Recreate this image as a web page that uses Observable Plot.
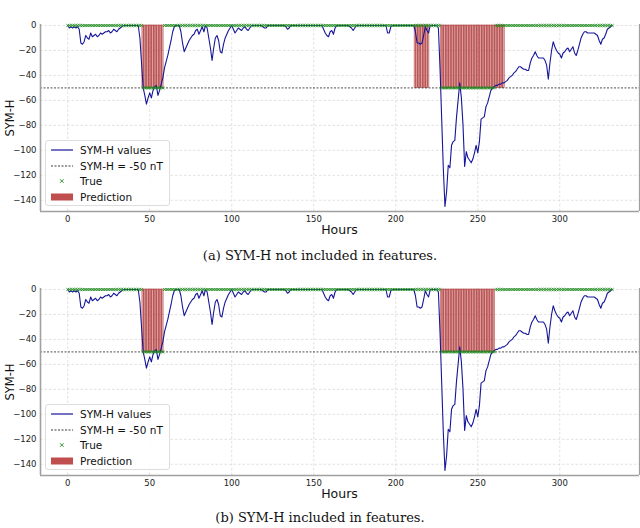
<!DOCTYPE html>
<html><head><meta charset="utf-8">
<script src="https://cdn.jsdelivr.net/npm/d3@7"></script>
<script src="https://cdn.jsdelivr.net/npm/@observablehq/plot@0.6"></script>
<style>
body{margin:0;background:#fff;font-family:"DejaVu Sans",sans-serif;}
#fig{position:relative;width:640px;height:528px;overflow:hidden;background:#fff}
.panel{position:absolute;left:0;width:640px;height:240px}
.cap{position:absolute;left:0;width:640px;text-align:center;font-family:"DejaVu Serif",serif;font-size:13px;line-height:16px;color:#111}
.xl{position:absolute;left:40px;width:599px;text-align:center;font-size:12.5px;line-height:14px;color:#111}
.yl{position:absolute;left:3px;width:14px;height:60px;font-size:11.5px;color:#111}
.yl span{position:absolute;left:50%;top:50%;transform:translate(-50%,-50%) rotate(-90deg);white-space:nowrap}
.leg{position:absolute;left:45px;width:123px;height:64px;border:1px solid #ddd;border-radius:3px;background:rgba(255,255,255,0.85);font-size:10.5px;color:#111}
.leg .row{position:absolute;left:4px;height:14px;line-height:14px;white-space:nowrap}
.leg svg{position:absolute;left:0;top:0}
.leg .t{position:absolute;left:30px;top:0}
</style></head>
<body><div id="fig"></div>
<script>
// SYM-H hourly values (nT), hour 0..332
const symh = [
0,-2,-1,-2,-1,-2,-1,-3,-14,-15,
-13,-8,-10,-11,-6,-9,-8,-7,-9,-8,
-6,-7,-6,-5,-5,-4,-6,-5,-3,-4,
-5,-3,-2,-1,0,0,0,0,0,0,
0,0,0,0,-10,-30,-50,-56,-63,-58,
-54,-58,-52,-49,-48,-56,-52,-47,-42,-34,
-29,-24,-18,-12,-5,-1,0,0,0,-5,
-14,-21,-18,-15,-12,-10,-8,-7,-4,-3,
-7,-4,-1,-5,0,-2,-10,-18,-28,-18,
-10,-8,-12,-21,-22,-15,-10,-7,-4,-2,
0,-3,-6,-4,-2,-3,-4,-2,-1,-3,
-4,-2,0,0,0,0,0,0,0,-1,
-2,-2,0,0,0,0,0,0,0,0,
0,0,0,-1,-3,-2,0,0,0,0,
0,0,0,0,0,0,0,0,0,0,
0,0,0,0,0,0,-3,-6,-8,-9,
-5,-4,-7,-2,0,0,0,0,0,0,
0,0,-1,-2,-4,-2,0,0,0,0,
0,0,0,0,0,0,0,0,0,0,
0,0,0,0,0,-6,-6,-1,0,0,
0,0,0,0,0,0,0,0,0,0,
0,0,-5,-14,-14,-15,-14,-8,-1,-4,
-6,0,0,0,0,0,-2,-35,-75,-115,
-145,-133,-112,-114,-96,-93,-92,-74,-60,-46,
-58,-80,-113,-101,-106,-108,-110,-107,-102,-96,
-102,-93,-75,-74,-73,-65,-62,-57,-52,-50,
-49,-48,-48,-47,-47,-46,-46,-45,-44,-42,
-41,-40,-38,-37,-35,-33,-33,-34,-35,-35,
-36,-36,-30,-26,-24,-21,-24,-26,-26,-26,
-26,-28,-32,-43,-30,-20,-13,-17,-20,-22,
-23,-26,-22,-21,-19,-18,-21,-19,-17,-22,
-24,-20,-15,-10,-7,-5,-5,-6,-6,-6,
-6,-6,-7,-8,-12,-15,-11,-10,-7,-3,
-2,-1,0
];
const threshold = -50;
// true storm hours (label = storm) as [start, end] inclusive
const trueStorms = [[46, 58], [228, 260]];
// predicted storm hours per panel
const predA = [[46, 58], [212, 220], [228, 266]];
const predB = [[46, 58], [228, 260]];
const captions = ["(a) SYM-H not included in features.", "(b) SYM-H included in features."];
const xTicks = [0, 50, 100, 150, 200, 250, 300];
const yTicks = [0, -20, -40, -60, -80, -100, -120, -140];
const legendLabels = ["SYM-H values", "SYM-H = -50 nT", "True", "Prediction"];

const lineColor = "#16169a";
const barColor = "#b22222";
const xDomain = [-16.6, 348.6];
const yDomain = [-149, 0.8];

const series = symh.map((v, i) => ({h: i, v}));
const stormSet = new Set(trueStorms.flatMap(([a, b]) => d3.range(a, b + 1)));
const trueMarks = series.map(d => ({h: d.h, y: stormSet.has(d.h) ? threshold : 0}));

function panel(pred) {
  const predHours = pred.flatMap(([a, b]) => d3.range(a, b + 1)).map(h => ({h}));
  return Plot.plot({
    width: 640, height: 240,
    marginLeft: 40, marginRight: 1, marginTop: 24, marginBottom: 29,
    style: {fontFamily: "DejaVu Sans, sans-serif", fontSize: "8.5px", color: "#222", background: "transparent"},
    x: {domain: xDomain},
    y: {domain: yDomain},
    marks: [
      Plot.gridX(xTicks, {stroke: "#d4d4d4", strokeOpacity: 1, strokeDasharray: "2.5,2", strokeWidth: 0.7}),
      Plot.gridY(yTicks, {stroke: "#d4d4d4", strokeOpacity: 1, strokeDasharray: "2.5,2", strokeWidth: 0.7}),
      Plot.rectY(predHours, {x1: d => d.h - 0.5, x2: d => d.h + 0.5, y1: threshold, y2: 0,
        fill: barColor, fillOpacity: 0.38, stroke: "#a52a2a", strokeWidth: 0.7, strokeOpacity: 0.6}),
      Plot.line(series, {x: "h", y: "v", stroke: lineColor, strokeWidth: 1.1}),
      Plot.ruleY([threshold], {stroke: "#222", strokeWidth: 0.8, strokeDasharray: "2,1.5"}),
      Plot.dot(trueMarks, {x: "h", y: "y", symbol: "times", r: 1.4, stroke: "#1d8a1d", strokeWidth: 0.8}),
      Plot.ruleX([xDomain[0]], {stroke: "#a0a0a0", strokeWidth: 1.6}),
      Plot.ruleX([xDomain[1]], {stroke: "#a0a0a0", strokeWidth: 1.2}),
      Plot.ruleY([yDomain[0]], {stroke: "#a0a0a0", strokeWidth: 1.6}),
      Plot.axisX(xTicks, {tickSize: 0, tickPadding: 4, label: null}),
      Plot.axisY(yTicks, {tickSize: 0, tickPadding: 4, label: null})
    ]
  });
}

function legendHTML(top) {
  const rows = legendLabels.map((t, i) => {
    let sw;
    if (i === 0) sw = `<line x1="1" x2="23" y1="7" y2="7" stroke="${lineColor}" stroke-width="1.2"/>`;
    else if (i === 1) sw = `<line x1="1" x2="23" y1="7" y2="7" stroke="#222" stroke-width="0.9" stroke-dasharray="2,1.5"/>`;
    else if (i === 2) sw = `<path d="M10,5.2L13.6,8.8M13.6,5.2L10,8.8" stroke="#1d8a1d" stroke-width="0.9"/>`;
    else sw = `<rect x="1" y="3.5" width="22" height="7" fill="${barColor}" fill-opacity="0.8"/>`;
    return `<div class="row" style="top:${2 + i * 15.6}px;width:118px"><svg width="26" height="14">${sw}</svg><span class="t">${t}</span></div>`;
  }).join("");
  return `<div class="leg" style="top:${top}px">${rows}</div>`;
}

const fig = document.getElementById("fig");
[[predA, 0, 248], [predB, 264, 510]].forEach(([pred, top, capTop], k) => {
  const wrap = document.createElement("div");
  wrap.className = "panel";
  wrap.style.top = top + "px";
  wrap.appendChild(panel(pred));
  fig.appendChild(wrap);
  fig.insertAdjacentHTML("beforeend",
    `<div class="xl" style="top:${top + 223}px">Hours</div>` +
    `<div class="yl" style="top:${top + 88}px"><span>SYM-H</span></div>` +
    legendHTML(top + 140) +
    `<div class="cap" style="top:${capTop}px">${captions[k]}</div>`);
});
</script></body></html>
